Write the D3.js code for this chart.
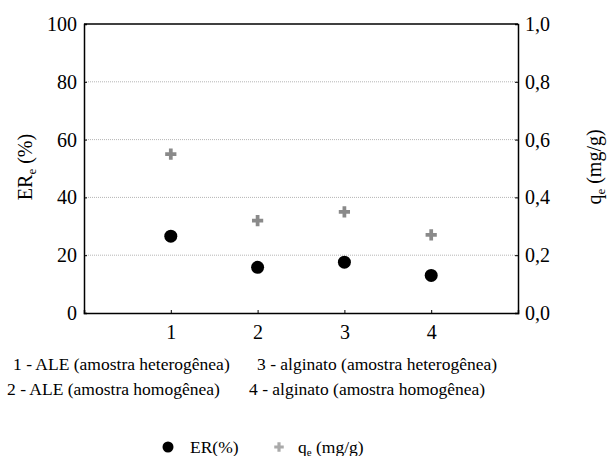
<!DOCTYPE html>
<html>
<head>
  <style>
    body { margin: 0; background: white; }
  </style>
</head>
<body>
  <div id="chart"></div>
  <script src="https://d3js.org/d3.v7.min.js"></script>
  <script>
    // Data
    const samples = [1, 2, 3, 4];
    const erValues = [26.6, 15.8, 17.6, 13.0];
    const qeValues = [0.55, 0.32, 0.35, 0.27];
    const leftTicks = [0, 20, 40, 60, 80, 100];
    const rightTicks = [0, 0.2, 0.4, 0.6, 0.8, 1.0];
    const captions = [
      "1 - ALE (amostra heterogênea)",
      "2 - ALE (amostra homogênea)",
      "3 - alginato (amostra heterogênea)",
      "4 - alginato (amostra homogênea)"
    ];

    const FONT = "'Liberation Serif'";
    const W = 607, H = 456;
    const margin = { top: 24, right: 89, bottom: 143, left: 84 };
    const width = W - margin.left - margin.right;
    const height = H - margin.top - margin.bottom;

    const svg = d3.select("#chart").append("svg")
      .attr("width", W).attr("height", H)
      .attr("font-family", FONT);
    const g = svg.append("g")
      .attr("transform", "translate(" + margin.left + "," + margin.top + ")");

    const x = d3.scaleLinear().domain([0, 5]).range([0, width]);
    const yL = d3.scaleLinear().domain([0, 100]).range([height, 0]);
    const yR = d3.scaleLinear().domain([0, 1]).range([height, 0]);

    // gridlines
    g.selectAll(".grid").data(leftTicks.filter(t => t > 0 && t < 100))
      .enter().append("line")
      .attr("x1", 0).attr("x2", width)
      .attr("y1", d => yL(d)).attr("y2", d => yL(d))
      .attr("stroke", "#b5b5b5").attr("stroke-width", 1)
      .attr("stroke-dasharray", "1,1");

    // top border
    g.append("line").attr("x1", 0).attr("x2", width).attr("y1", 0).attr("y2", 0)
      .attr("stroke", "black").attr("stroke-width", 1.5);

    const fmtComma = d => d3.format(".1f")(d).replace(".", ",");

    const leftAxis = g.append("g")
      .call(d3.axisLeft(yL).tickValues(leftTicks).tickSize(-3).tickPadding(7));
    const rightAxis = g.append("g")
      .attr("transform", "translate(" + width + ",0)")
      .call(d3.axisRight(yR).tickValues(rightTicks).tickSize(-3).tickPadding(7).tickFormat(fmtComma));
    const bottomAxis = g.append("g")
      .attr("transform", "translate(0," + height + ")")
      .call(d3.axisBottom(x).tickValues(samples).tickSize(-3).tickPadding(12).tickFormat(d3.format("d")));

    [leftAxis, rightAxis, bottomAxis].forEach(a => {
      a.attr("font-family", FONT).attr("font-size", 20);
      a.select(".domain").attr("stroke", "black").attr("stroke-width", 1.5);
      a.selectAll(".tick line").attr("stroke", "black");
      a.selectAll("text").attr("fill", "black").attr("font-family", FONT).attr("font-size", 20);
    });

    // q_e markers (grey plus)
    const plus = d3.symbol().type(d3.symbolCross).size(70);
    g.selectAll(".qe").data(qeValues).enter().append("path")
      .attr("d", plus)
      .attr("transform", (d, i) => "translate(" + x(samples[i]) + "," + yR(d) + ")")
      .attr("fill", "#8a8a8a");

    // ER markers (black circles)
    g.selectAll(".er").data(erValues).enter().append("circle")
      .attr("cx", (d, i) => x(samples[i]))
      .attr("cy", d => yL(d))
      .attr("r", 6.5)
      .attr("fill", "black");

    // axis titles
    const lt = svg.append("text")
      .attr("transform", "translate(32,167) rotate(-90)")
      .attr("text-anchor", "middle")
      .attr("font-family", FONT)
      .attr("font-size", 20);
    lt.append("tspan").text("ER");
    lt.append("tspan").text("e").attr("font-size", 13).attr("dy", 4);
    lt.append("tspan").text(" (%)").attr("dy", -4);

    const rt = svg.append("text")
      .attr("transform", "translate(601,167) rotate(-90)")
      .attr("text-anchor", "middle")
      .attr("font-family", FONT)
      .attr("font-size", 20);
    rt.append("tspan").text("q");
    rt.append("tspan").text("e").attr("font-size", 13).attr("dy", 4);
    rt.append("tspan").text(" (mg/g)").attr("dy", -4);

    // captions
    const capPos = [[13, 370], [7, 395], [257, 370], [249, 395]];
    svg.selectAll(".cap").data(captions).enter().append("text")
      .attr("x", (d, i) => capPos[i][0])
      .attr("y", (d, i) => capPos[i][1])
      .attr("font-family", FONT)
      .attr("font-size", 17.5)
      .text(d => d);

    // legend
    svg.append("circle").attr("cx", 168).attr("cy", 447).attr("r", 5.5).attr("fill", "black");
    svg.append("text").attr("x", 190).attr("y", 453)
      .attr("font-family", FONT).attr("font-size", 17.5).text("ER(%)");
    svg.append("path").attr("d", d3.symbol().type(d3.symbolCross).size(50))
      .attr("transform", "translate(279,447)").attr("fill", "#aaaaaa");
    const lq = svg.append("text").attr("x", 298).attr("y", 453)
      .attr("font-family", FONT).attr("font-size", 17.5);
    lq.append("tspan").text("q");
    lq.append("tspan").text("e").attr("font-size", 11).attr("dy", 3);
    lq.append("tspan").text(" (mg/g)").attr("dy", -3);
  </script>
</body>
</html>
